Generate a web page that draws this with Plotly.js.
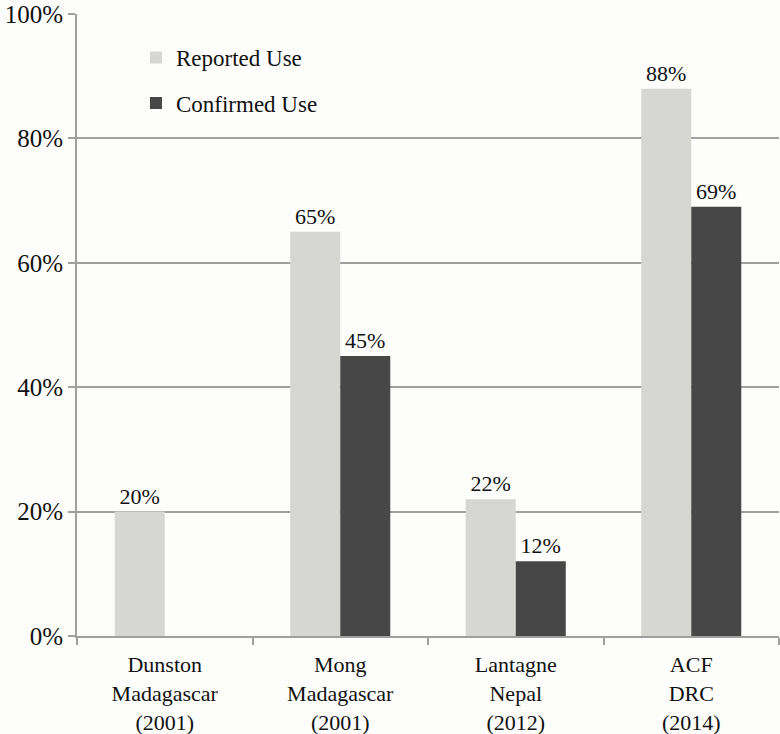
<!DOCTYPE html>
<html>
<head>
<meta charset="utf-8">
<script src="https://cdn.plot.ly/plotly-3.0.1.min.js"></script>
<style>html,body{margin:0;padding:0;background:#fdfdfb;}</style>
</head>
<body>
<div id="chart" style="width:780px;height:734px;"></div>
<script>
const categories = ["Dunston<br>Madagascar<br>(2001)", "Mong<br>Madagascar<br>(2001)", "Lantagne<br>Nepal<br>(2012)", "ACF<br>DRC<br>(2014)"];
const reportedUse = [20, 65, 22, 88];
const confirmedUse = [null, 45, 12, 69];
const yTickVals = [0, 20, 40, 60, 80, 100];
const yTickText = ["0%", "20%", "40%", "60%", "80%", "100%"];

const fontFam = "Liberation Serif";
const lbl = v => v === null ? "" : v + "%";

const traces = [
  {type: "bar", name: "Reported Use", x: categories, y: reportedUse,
   marker: {color: "#d6d7d3"}, text: reportedUse.map(lbl), textposition: "outside",
   textfont: {family: fontFam, size: 22, color: "#111"}, cliponaxis: false, legend: "legend"},
  {type: "bar", name: "Confirmed Use", x: categories, y: confirmedUse,
   marker: {color: "#474747"}, text: confirmedUse.map(lbl), textposition: "outside",
   textfont: {family: fontFam, size: 22, color: "#111"}, cliponaxis: false, legend: "legend2"}
];

const layout = {
  width: 780, height: 734,
  margin: {l: 77, r: 1, t: 14, b: 98},
  paper_bgcolor: "#fdfdfb", plot_bgcolor: "#fdfdfb",
  font: {family: fontFam, color: "#111"},
  barmode: "group", bargap: 0.43, bargroupgap: 0,
  showlegend: true,
  legend: {x: 0.084, y: 0.93, xanchor: "left", yanchor: "middle", bgcolor: "rgba(0,0,0,0)",
           font: {family: fontFam, size: 23, color: "#111"}},
  legend2: {x: 0.084, y: 0.857, xanchor: "left", yanchor: "middle", bgcolor: "rgba(0,0,0,0)",
           font: {family: fontFam, size: 23, color: "#111"}},
  xaxis: {type: "category", showline: true, linecolor: "#a0a0a0", linewidth: 2,
          ticks: "outside", tickson: "boundaries", ticklen: 7, tickcolor: "#a0a0a0", tickwidth: 2,
          ticklabelstandoff: 8,
          tickfont: {family: fontFam, size: 22, color: "#111"}, showgrid: false},
  yaxis: {range: [0, 100], tickvals: yTickVals, ticktext: yTickText, showline: true,
          linecolor: "#a0a0a0", linewidth: 2, ticks: "outside", ticklen: 7, tickcolor: "#a0a0a0", tickwidth: 2,
          gridcolor: "#a0a0a0", gridwidth: 2, zeroline: false,
          tickfont: {family: fontFam, size: 25, color: "#111"}}
};

Plotly.newPlot("chart", traces, layout, {displayModeBar: false});
</script>
</body>
</html>
